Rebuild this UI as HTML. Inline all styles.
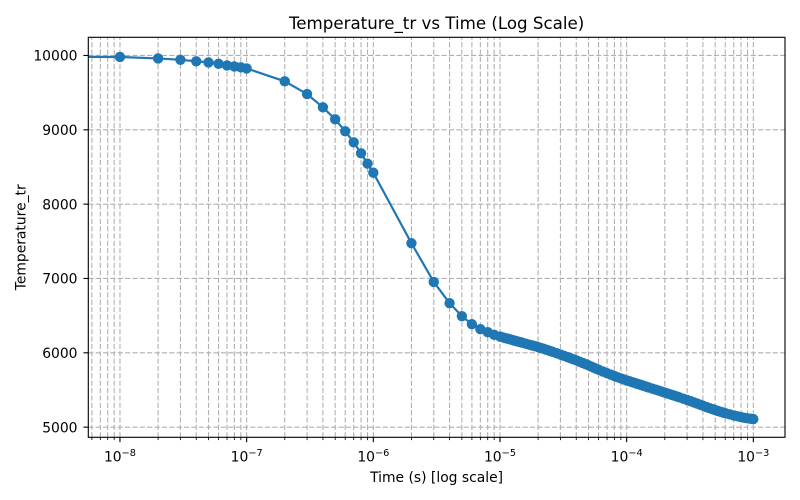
<!DOCTYPE html>
<html lang="en">
<head>
<meta charset="utf-8">
<title>Temperature_tr vs Time (Log Scale)</title>
<style>
  html, body { margin: 0; padding: 0; background: #ffffff; }
  svg { display: block; font-family: "DejaVu Sans", "Liberation Sans", sans-serif; }
  text { fill: #000000; }
</style>
</head>
<body>
<svg id="chart" width="800" height="500" viewBox="0 0 800 500" xmlns="http://www.w3.org/2000/svg">
  <rect x="0" y="0" width="800" height="500" fill="#ffffff"/>
  <defs>
    <clipPath id="plot-clip"><rect x="88.3" y="37.3" width="696.7" height="400"/></clipPath>
  </defs>
  <g id="grid-layer" clip-path="url(#plot-clip)"></g>
  <g id="series-layer" clip-path="url(#plot-clip)"></g>
  <g id="tick-layer"></g>
  <rect x="88.3" y="37.3" width="696.7" height="400" fill="none" stroke="#000000" stroke-width="1.11"/>
  <text x="436.6" y="29" font-size="16.67" text-anchor="middle">Temperature_tr vs Time (Log Scale)</text>
  <text x="436.6" y="482" font-size="13.89" text-anchor="middle">Time (s) [log scale]</text>
  <text transform="translate(25.5,237.3) rotate(-90)" font-size="13.89" text-anchor="middle">Temperature_tr</text>
</svg>
<script>
const timeValues = [
  0,
  1e-8, 2e-8, 3e-8, 4e-8, 5e-8, 6e-8, 7e-8, 8e-8, 9e-8,
  1e-7, 2e-7, 3e-7, 4e-7, 5e-7, 6e-7, 7e-7, 8e-7, 9e-7,
  1e-6, 2e-6, 3e-6, 4e-6, 5e-6, 6e-6, 7e-6, 8e-6, 9e-6,
  1.0e-5, 1.05e-5, 1.1e-5, 1.15e-5, 1.2e-5, 1.25e-5, 1.3e-5, 1.35e-5, 1.4e-5, 1.45e-5, 1.5e-5,
  1.6e-5, 1.7e-5, 1.8e-5, 1.9e-5, 2.0e-5, 2.1e-5, 2.2e-5, 2.3e-5, 2.4e-5, 2.5e-5, 2.6e-5, 2.8e-5,
  3.0e-5, 3.2e-5, 3.4e-5, 3.6e-5, 3.8e-5, 4.0e-5, 4.25e-5, 4.5e-5, 4.75e-5, 5.0e-5, 5.25e-5, 5.5e-5, 5.75e-5,
  6.0e-5, 6.5e-5, 7.0e-5, 7.5e-5, 8.0e-5, 8.5e-5, 9.0e-5, 9.5e-5,
  1.0e-4, 1.05e-4, 1.1e-4, 1.15e-4, 1.2e-4, 1.25e-4, 1.3e-4, 1.35e-4, 1.4e-4, 1.45e-4, 1.5e-4,
  1.6e-4, 1.7e-4, 1.8e-4, 1.9e-4, 2.0e-4, 2.1e-4, 2.2e-4, 2.3e-4, 2.4e-4, 2.5e-4, 2.6e-4, 2.8e-4,
  3.0e-4, 3.2e-4, 3.4e-4, 3.6e-4, 3.8e-4, 4.0e-4, 4.25e-4, 4.5e-4, 4.75e-4, 5.0e-4, 5.25e-4, 5.5e-4, 5.75e-4,
  6.0e-4, 6.5e-4, 7.0e-4, 7.5e-4, 8.0e-4, 8.5e-4, 9.0e-4, 9.5e-4, 1.0e-3
];
const temperatureValues = [
  10000,
  9980, 9960, 9942, 9922, 9907, 9888, 9866, 9853, 9840,
  9826, 9652, 9481, 9303, 9141, 8980, 8832, 8684, 8545,
  8423, 7474, 6954, 6668, 6493, 6385, 6318, 6278, 6242,
  6219, 6209, 6199, 6190, 6182, 6173, 6165, 6157, 6150, 6143, 6136,
  6123, 6110, 6099, 6087, 6077, 6066, 6055, 6044, 6034, 6024, 6014, 5995,
  5977, 5960, 5943, 5928, 5913, 5899, 5881, 5864, 5847, 5831, 5815, 5800, 5786,
  5773, 5748, 5726, 5706, 5688, 5671, 5656, 5642,
  5629, 5618, 5607, 5596, 5586, 5576, 5567, 5558, 5549, 5541, 5533,
  5518, 5504, 5490, 5477, 5465, 5453, 5442, 5431, 5421, 5411, 5402, 5383,
  5366, 5349, 5333, 5317, 5302, 5288, 5272, 5257, 5243, 5230, 5218, 5207, 5197,
  5188, 5172, 5158, 5146, 5135, 5126, 5119, 5113, 5108
];
const xDecadeExponents = [-9, -8, -7, -6, -5, -4, -3];
const xMinorMultipliers = [2, 3, 4, 5, 6, 7, 8, 9];
const xTickLabels = ["\u22128", "\u22127", "\u22126", "\u22125", "\u22124", "\u22123"];
const xLabelExponents = [-8, -7, -6, -5, -4, -3];
const yTickValues = [5000, 6000, 7000, 8000, 9000, 10000];

const NS = "http://www.w3.org/2000/svg";
const plot = { left: 88.3, right: 785, top: 37.3, bottom: 437.3 };
const xLogMin = -8.25, xLogMax = -2.75, xLogClip = -12;
const yMin = 4863.4, yMax = 10244.6;

function xScale(t) {
  const lg = t > 0 ? Math.log10(t) : xLogClip;
  return plot.left + (lg - xLogMin) / (xLogMax - xLogMin) * (plot.right - plot.left);
}
function yScale(v) {
  return plot.bottom - (v - yMin) / (yMax - yMin) * (plot.bottom - plot.top);
}
function make(tag, attrs, parent) {
  const el = document.createElementNS(NS, tag);
  for (const k in attrs) el.setAttribute(k, attrs[k]);
  parent.appendChild(el);
  return el;
}

const gridLayer = document.getElementById("grid-layer");
const tickLayer = document.getElementById("tick-layer");
const seriesLayer = document.getElementById("series-layer");
const gridStyle = { stroke: "#b0b0b0", "stroke-width": 1.1, "stroke-dasharray": "5.14 2.22", fill: "none" };

function gridLineV(x) {
  const el = make("line", Object.assign({ x1: x, x2: x, y1: plot.bottom, y2: plot.top }, gridStyle), gridLayer);
  
  
}
function gridLineH(y) {
  const el = make("line", Object.assign({ x1: plot.left, x2: plot.right, y1: y, y2: y }, gridStyle), gridLayer);
  
  
}

xDecadeExponents.forEach(function (exp) {
  const majorT = Math.pow(10, exp);
  const xMajor = xScale(majorT);
  if (xMajor >= plot.left && xMajor <= plot.right) {
    gridLineV(xMajor);
    const tick = make("line", { x1: xMajor, x2: xMajor, y1: plot.bottom, y2: plot.bottom + 4.86, stroke: "#000", "stroke-width": 1.11 }, tickLayer);
    
    
  }
  xMinorMultipliers.forEach(function (m) {
    const x = xScale(m * majorT);
    if (x < plot.left || x > plot.right) return;
    gridLineV(x);
    const minor = make("line", { x1: x, x2: x, y1: plot.bottom, y2: plot.bottom + 2.78, stroke: "#000", "stroke-width": 0.83 }, tickLayer);
    
    
  });
});

xLabelExponents.forEach(function (exp, i) {
  const x = xScale(Math.pow(10, exp));
  const base = make("text", { x: x - 16, y: 461.5, "font-size": 13.89 }, tickLayer);
  base.textContent = "10";
  
  
  const sup = make("text", { x: x + 1.7, y: 456, "font-size": 9.72 }, tickLayer);
  sup.textContent = xTickLabels[i];
  
  
});

yTickValues.forEach(function (v) {
  const y = yScale(v);
  gridLineH(y);
  const tick = make("line", { x1: plot.left - 4.86, x2: plot.left, y1: y, y2: y, stroke: "#000", "stroke-width": 1.11 }, tickLayer);
  
  
  const label = make("text", { x: 77.5, y: y + 5.2, "font-size": 13.89, "text-anchor": "end" }, tickLayer);
  label.textContent = String(v);
  
  
});

const linePoints = timeValues.map(function (t, i) {
  return xScale(t).toFixed(2) + "," + yScale(temperatureValues[i]).toFixed(2);
}).join(" ");
const seriesLine = make("polyline", { points: linePoints, fill: "none", stroke: "#1f77b4", "stroke-width": 2.2, "stroke-linejoin": "round" }, seriesLayer);



timeValues.forEach(function (t, i) {
  if (t <= 0) return;
  const dot = make("circle", { cx: xScale(t), cy: yScale(temperatureValues[i]), r: 4.5, fill: "#1f77b4", stroke: "#1f77b4", "stroke-width": 1.39 }, seriesLayer);
  
  
});
</script>
</body>
</html>
